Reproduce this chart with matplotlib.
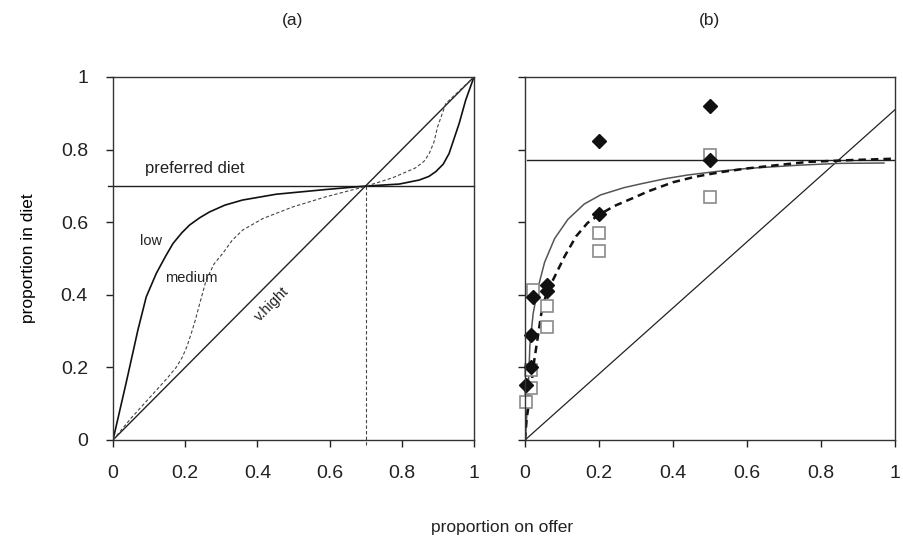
import matplotlib
matplotlib.use("Agg")
import matplotlib.pyplot as plt

plt.rcParams['font.family'] = ['Liberation Sans', 'DejaVu Sans']

# panel (a): model curves
low_x = [0, 0.037, 0.069, 0.092, 0.12, 0.145, 0.166, 0.19, 0.212, 0.24, 0.267, 0.31, 0.359, 0.452, 0.59,
         0.694, 0.793, 0.848, 0.875, 0.894, 0.915, 0.931, 0.959, 0.977, 1.0]
low_y = [0, 0.16, 0.303, 0.394, 0.459, 0.505, 0.541, 0.57, 0.592, 0.612, 0.628, 0.647, 0.661, 0.677, 0.69,
         0.699, 0.705, 0.716, 0.726, 0.739, 0.76, 0.789, 0.872, 0.936, 1.0]
med_x = [0, 0.05, 0.1, 0.15, 0.175, 0.192, 0.205, 0.217, 0.228, 0.24, 0.258, 0.28, 0.304, 0.33, 0.359, 0.415,
         0.498, 0.59, 0.694, 0.774, 0.839, 0.862, 0.876, 0.889, 0.899, 0.922, 1.0]
med_y = [0, 0.06, 0.115, 0.17, 0.2, 0.228, 0.258, 0.294, 0.33, 0.375, 0.44, 0.485, 0.514, 0.55, 0.578, 0.61,
         0.642, 0.67, 0.697, 0.722, 0.75, 0.768, 0.789, 0.82, 0.862, 0.927, 1.0]
preferred_a = 0.7

# panel (b): fitted curves and observations
fit1_x = [0, 0.002, 0.007, 0.011, 0.013, 0.018, 0.022, 0.036, 0.053, 0.08, 0.116, 0.16, 0.204, 0.267,
          0.315, 0.38, 0.44, 0.52, 0.6, 0.74, 0.85, 0.97]
fit1_y = [0, 0.02, 0.11, 0.2, 0.26, 0.31, 0.349, 0.423, 0.49, 0.555, 0.608, 0.65, 0.675, 0.695,
          0.706, 0.72, 0.73, 0.74, 0.748, 0.757, 0.762, 0.763]
fit2_x = [0, 0.0045, 0.009, 0.018, 0.025, 0.036, 0.044, 0.058, 0.08, 0.107, 0.138, 0.169, 0.2, 0.24,
          0.293, 0.333, 0.4, 0.459, 0.53, 0.6, 0.68, 0.764, 0.88, 1.0]
fit2_y = [0, 0.06, 0.09, 0.16, 0.22, 0.294, 0.349, 0.405, 0.45, 0.506, 0.561, 0.598, 0.62, 0.644,
          0.667, 0.685, 0.71, 0.725, 0.738, 0.748, 0.757, 0.766, 0.771, 0.775]
dia_x = [0.003, 0.016, 0.016, 0.021, 0.058, 0.058, 0.2, 0.2, 0.5, 0.5]
dia_y = [0.151, 0.202, 0.289, 0.394, 0.428, 0.411, 0.622, 0.823, 0.919, 0.772]
sq_x = [0.003, 0.016, 0.016, 0.021, 0.058, 0.058, 0.2, 0.2, 0.5, 0.5]
sq_y = [0.106, 0.142, 0.193, 0.413, 0.37, 0.31, 0.571, 0.52, 0.668, 0.784]
preferred_b = 0.77
diag_b_x = [0, 1.0]
diag_b_y = [0, 0.91]

ticks = [0, 0.2, 0.4, 0.6, 0.8, 1]
tick_labels = ['0', '0.2', '0.4', '0.6', '0.8', '1']

fig = plt.figure(figsize=(9.04, 5.39), dpi=100)
ax1 = fig.add_axes([0.125, 0.1837, 0.3993, 0.6735])
ax2 = fig.add_axes([0.5808, 0.1837, 0.4093, 0.6735])

for ax in (ax1, ax2):
    ax.set_xlim(0, 1)
    ax.set_ylim(0, 1)
    ax.set_xticks(ticks)
    ax.set_xticklabels(tick_labels)
    ax.set_yticks(ticks)
    ax.tick_params(direction='out', length=5, width=1, colors='#222222', labelsize=14, pad=13)
    for s in ax.spines.values():
        s.set_color('#333333')
        s.set_linewidth(1.0)

ax1.set_yticklabels(tick_labels)
ax2.set_yticklabels([])

# (a)
ax1.plot([0, 1], [0, 1], color='#222222', lw=1.0)
ax1.plot([-0.015, 1], [preferred_a, preferred_a], color='#222222', lw=1.0, clip_on=False)
ax1.plot([preferred_a, preferred_a], [-0.015, preferred_a], color='#444444', lw=0.8,
         linestyle=(0, (3, 2)), clip_on=False)
ax1.plot(low_x, low_y, color='#111111', lw=1.2)
ax1.plot(med_x, med_y, color='#444444', lw=0.8, linestyle=(0, (3, 2)))
ax1.text(0.09, 0.735, 'preferred diet', fontsize=12, color='#222222')
ax1.text(0.075, 0.548, 'low', fontsize=10.5, color='#222222', va='center')
ax1.text(0.143, 0.446, 'medium', fontsize=10.5, color='#222222', va='center')
ax1.text(0.44, 0.375, 'v.hight', fontsize=10.5, color='#222222', rotation=45,
         ha='center', va='center', rotation_mode='anchor')
ax1.set_ylabel('proportion in diet', fontsize=12.5, labelpad=18)

# (b)
ax2.plot(diag_b_x, diag_b_y, color='#222222', lw=0.9)
ax2.plot([0.006, 1], [preferred_b, preferred_b], color='#222222', lw=1.0)
ax2.plot(fit1_x, fit1_y, color='#555555', lw=1.1)
ax2.plot(fit2_x, fit2_y, color='#111111', lw=1.8, linestyle=(0, (3, 2)))
ax2.plot(sq_x, sq_y, linestyle='none', marker='s', markersize=8, markerfacecolor='white',
         markeredgecolor='#8a8a8a', markeredgewidth=1.2, clip_on=False)
ax2.plot(dia_x, dia_y, linestyle='none', marker='D', markersize=7, color='#111111', clip_on=False)

fig.text(0.324, 0.962, '(a)', fontsize=12.5, ha='center', va='center', color='#222222')
fig.text(0.785, 0.962, '(b)', fontsize=12.5, ha='center', va='center', color='#222222')
fig.text(0.555, 0.022, 'proportion on offer', fontsize=12.5, ha='center', va='center', color='#222222')

fig.savefig('out.png', dpi=100)
